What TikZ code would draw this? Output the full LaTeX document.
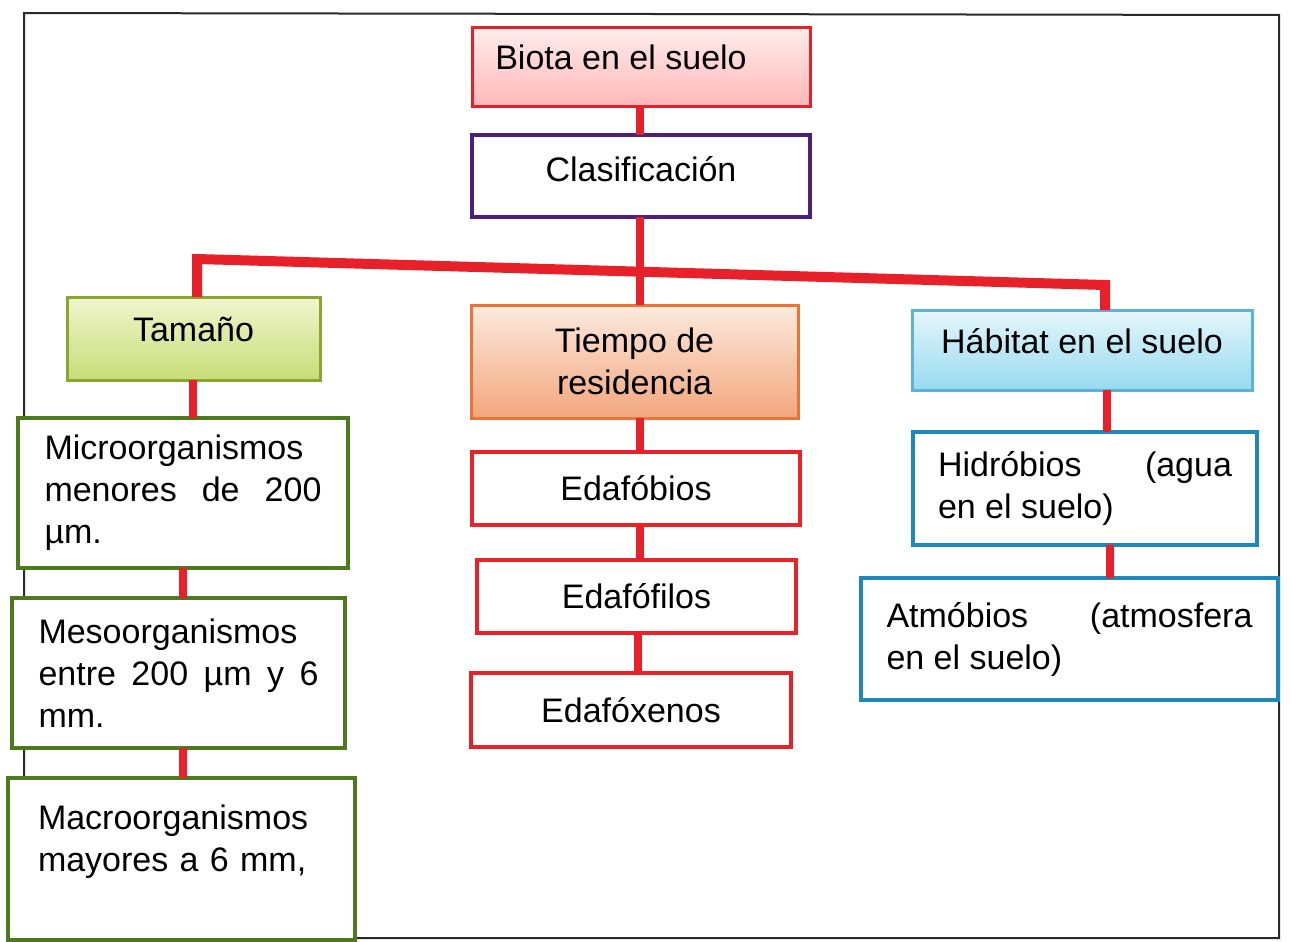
\documentclass[tikz,border=0pt]{standalone}
\usepackage{fontspec}
\setmainfont{Liberation Sans}
\definecolor{conred}{HTML}{E8202A}
\definecolor{purp}{HTML}{4B1F7C}
\definecolor{olive}{HTML}{4E7A1E}
\definecolor{tamborder}{HTML}{8AA632}
\definecolor{orgborder}{HTML}{E8743A}
\definecolor{habborder}{HTML}{5AB4D8}
\definecolor{bluebord}{HTML}{1E88B8}
\definecolor{edred}{HTML}{E82228}
\definecolor{frame}{HTML}{2A2A2A}
\newcommand\mybox[7]{\node[#6, minimum width={#4-#2}, minimum height={#5-#3}] (#1) at ({(#2+#4)/2},{(#3+#5)/2}) {#7};}
\tikzset{
  base/.style={rectangle, inner sep=0pt, outer sep=0pt, font=\fontsize{34}{42}\selectfont, align=center},
  filledbox/.style={base, line width=3pt},
  whitebox/.style={base, fill=white, line width=4pt},
  raised/.style={text height=24pt, text depth=18pt},
  biota/.style={filledbox, raised, draw=conred, top color=white!70!pink, middle color=pink!70!white, bottom color=pink!80!red!70!white},
  clas/.style={whitebox, draw=purp, text height=24pt, text depth=14pt},
  tam/.style={filledbox, raised, draw=tamborder, top color={rgb,255:red,240;green,245;blue,205}, bottom color={rgb,255:red,200;green,220;blue,120}},
  tie/.style={filledbox, draw=orgborder, top color={rgb,255:red,252;green,234;blue,222}, bottom color={rgb,255:red,242;green,166;blue,124}},
  hab/.style={filledbox, raised, draw=habborder, top color={rgb,255:red,230;green,246;blue,251}, bottom color={rgb,255:red,150;green,218;blue,240}},
  greenbox/.style={whitebox, draw=olive},
  redbox/.style={whitebox, draw=edred},
  bluebox/.style={whitebox, draw=bluebord},
  conn/.style={draw=conred, line width=8pt},
}
\begin{document}
\begin{tikzpicture}[x=1pt,y=-1pt]
\useasboundingbox (0,0) rectangle (1293,942);
\fill[white] (0,0) rectangle (1293,942);
\draw[frame, line width=2pt] (24,13) -- (1279,15) -- (1279,938) -- (24,938) -- cycle;

% top
\mybox{biota}{472}{28}{810}{106}{biota}{Biota en el suelo\hspace*{40pt}}
\mybox{clas}{472}{135}{810}{217}{clas}{Clasificación}

% level 2
\mybox{tam}{67}{297}{320}{380}{tam}{Tamaño}
\mybox{tie}{471}{305}{798}{418}{tie}{Tiempo de\\residencia}
\mybox{hab}{912}{310}{1252}{390}{hab}{Hábitat en el suelo}

% left column
\mybox{micro}{18}{418}{348}{568}{greenbox, text width=277pt, align=justify}{Microorganismos\linebreak menores de 200\linebreak µm.}
\mybox{meso}{12}{598}{345}{748}{greenbox, text width=280pt, align=justify}{Mesoorganismos\linebreak entre 200 µm y 6\linebreak mm.}
\mybox{macro}{8}{778}{355}{940}{greenbox, text width=287pt, align=left}{Macroorganismos\\mayores a 6 mm,\\\mbox{}}

% middle column
\mybox{edb}{472}{452}{800}{525}{redbox}{Edafóbios}
\mybox{edf}{477}{560}{796}{633}{redbox}{Edafófilos}
\mybox{edx}{471}{673}{791}{747}{redbox}{Edafóxenos}

% right column
\mybox{hid}{913}{432}{1257}{545}{bluebox, text width=294pt, align=justify}{Hidróbios (agua\linebreak en el suelo)}
\mybox{atm}{861}{578}{1278}{700}{bluebox, text width=366pt, align=justify}{Atmóbios (atmosfera\linebreak en el suelo)}

% connectors
\coordinate (hl) at (197,259);
\coordinate (hr) at (1105,285);
\draw[conn] (biota.south -| 640,0) -- (clas.north -| 640,0);
\draw[conn] (clas.south -| 640,0) -- (tie.north -| 640,0);
\draw[conn, line width=10pt, line join=miter] (tam.north -| hl) -- (hl) -- (hr) -- (hab.north -| hr);
\draw[conn] (tam.south -| 193,0) -- (micro.north -| 193,0);
\draw[conn] (micro.south -| 183,0) -- (meso.north -| 183,0);
\draw[conn] (meso.south -| 183,0) -- (macro.north -| 183,0);
\draw[conn] (tie.south -| 640,0) -- (edb.north -| 640,0);
\draw[conn] (edb.south -| 640,0) -- (edf.north -| 640,0);
\draw[conn] (edf.south -| 638,0) -- (edx.north -| 638,0);
\draw[conn] (hab.south -| 1107,0) -- (hid.north -| 1107,0);
\draw[conn] (hid.south -| 1110,0) -- (atm.north -| 1110,0);
\end{tikzpicture}
\end{document}
